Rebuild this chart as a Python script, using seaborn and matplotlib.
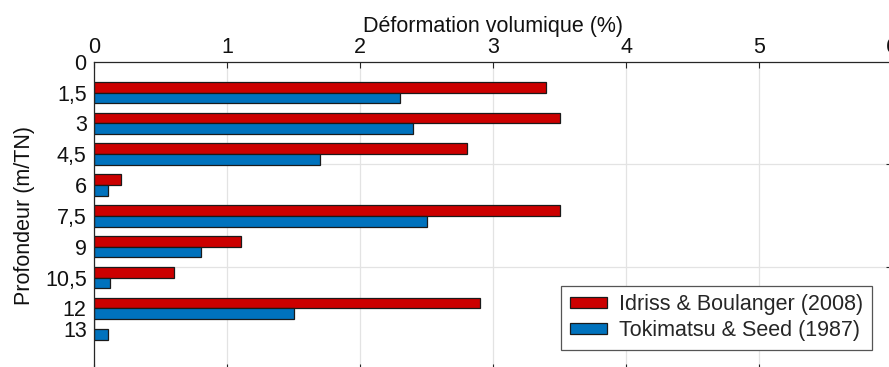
import pandas as pd
import seaborn as sns
import matplotlib.pyplot as plt
from matplotlib.patches import Patch
from matplotlib.ticker import FixedLocator

# Depth of each layer (m below natural ground) and volumetric strain (%)
depths = [1.5, 3, 4.5, 6, 7.5, 9, 10.5, 12, 13]
idriss = [3.4, 3.5, 2.8, 0.2, 3.5, 1.1, 0.6, 2.9, 0.0]
tokimatsu = [2.3, 2.4, 1.7, 0.1, 2.5, 0.8, 0.12, 1.5, 0.1]

series_names = ["Idriss & Boulanger (2008)", "Tokimatsu & Seed (1987)"]
series_colors = ["#CC0000", "#0072BD"]

depth_ticks = [0, 1.5, 3, 4.5, 6, 7.5, 9, 10.5, 12, 13]
depth_labels = ["0", "1,5", "3", "4,5", "6", "7,5", "9", "10,5", "12", "13"]
strain_ticks = [0, 1, 2, 3, 4, 5, 6]

df = pd.DataFrame({
    "depth": depths * 2,
    "value": idriss + tokimatsu,
    "serie": [series_names[0]] * len(depths) + [series_names[1]] * len(depths),
})

sns.set_theme(style="white")
plt.rcParams["font.family"] = ["Liberation Sans", "DejaVu Sans"]

axis_color = "#262626"
text_color = "#111111"
fs = 15.5

fig = plt.figure(figsize=(8.89, 3.67), dpi=100)
ax = fig.add_axes([0.1061, -0.0082, 0.8973, 0.8401])

sns.barplot(
    data=df, x="value", y="depth", hue="serie", hue_order=series_names,
    palette=series_colors, orient="h", native_scale=True, width=1.05,
    edgecolor="#1a1a1a", linewidth=0.9, saturation=1, errorbar=None,
    ax=ax,
)

ax.set_xlim(0, 6)
ax.set_ylim(15, 0)
ax.set_axisbelow(True)

# strain axis on top
ax.xaxis.tick_top()
ax.xaxis.set_label_position("top")
ax.set_xticks(strain_ticks)
ax.set_xticklabels([str(t) for t in strain_ticks])
ax.tick_params(axis="x", which="major", top=True, bottom=True,
               labeltop=True, labelbottom=False, direction="in",
               length=4, width=0.8, color=axis_color, labelsize=fs, pad=3,
               labelcolor=text_color)
ax.set_xlabel("Déformation volumique (%)", fontsize=fs, labelpad=3.5,
              color=text_color)

# depth axis: labelled depths, grid every 5 m
ax.set_yticks(depth_ticks)
ax.set_yticklabels(depth_labels)
ax.yaxis.set_minor_locator(FixedLocator([5, 10]))
ax.tick_params(axis="y", which="major", left=True, length=0, labelsize=fs,
               pad=5.5, labelcolor=text_color)
ax.tick_params(axis="y", which="minor", left=False, right=True,
               direction="in", length=4, width=0.8, color=axis_color)
ax.set_ylabel("Profondeur (m/TN)", fontsize=fs, labelpad=7, color=text_color)

ax.grid(axis="x", which="major", color="#e3e3e3", linewidth=0.9)
ax.grid(axis="y", which="minor", color="#e3e3e3", linewidth=0.9)
ax.grid(axis="y", which="major", visible=False)

for side in ["left", "top", "right", "bottom"]:
    ax.spines[side].set_visible(True)
    ax.spines[side].set_color(axis_color)
    ax.spines[side].set_linewidth(0.9)

if ax.get_legend() is not None:
    ax.get_legend().remove()
handles = [Patch(facecolor=c, edgecolor="#1a1a1a", linewidth=0.9)
           for c in series_colors]
leg = ax.legend(handles, series_names, loc="lower left",
                bbox_to_anchor=(0.585, 0.066), fontsize=fs,
                handlelength=1.75, handleheight=0.42, handletextpad=0.55,
                borderpad=0.4, labelspacing=0.22, fancybox=False,
                framealpha=1, edgecolor="#555555", borderaxespad=0)
leg.get_frame().set_linewidth(0.9)

fig.savefig("out.png", dpi=100)
